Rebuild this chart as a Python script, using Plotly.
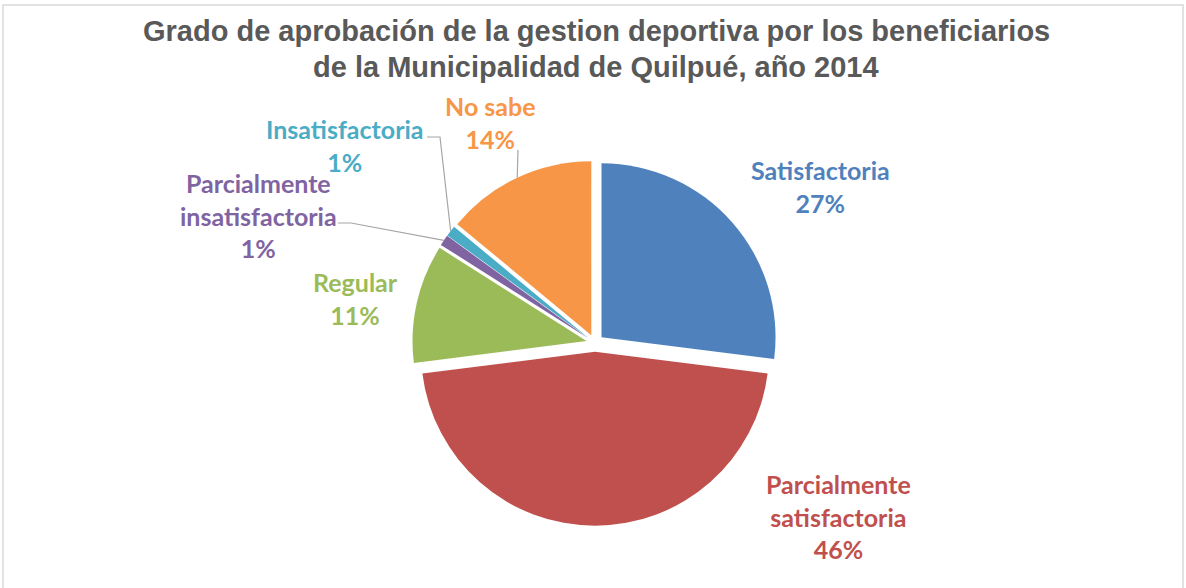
import math
import plotly.graph_objects as go

W, H = 1186, 588

categorias = ["Satisfactoria", "Parcialmente satisfactoria", "Regular",
              "Parcialmente insatisfactoria", "Insatisfactoria", "No sabe"]
porcentajes = [27, 46, 11, 1, 1, 14]
etiquetas = ["Satisfactoria", "Parcialmente<br>satisfactoria", "Regular",
             "Parcialmente<br>insatisfactoria", "Insatisfactoria", "No sabe"]
colores = ["#4F81BD", "#C0504D", "#9BBB59", "#8064A2", "#4BACC6", "#F79646"]

# layout (pixels)
cx, cy, r = 595, 343, 174
pull = 0.05
S = 2 * r * (1 + pull)
label_pos = [(820, 186), (838, 516), (355, 298), (258, 216), (345, 145), (490, 123)]
# elbow points for leader lines (only small/near slices)
leader_start = {3: [(338, 223), (351, 223)], 4: [(427, 137), (440, 137)], 5: [(518, 150)]}


def px(x):
    return x / W


def py(y):
    return 1 - y / H


fig = go.Figure(go.Pie(
    labels=categorias, values=porcentajes, sort=False, direction="clockwise",
    rotation=0, pull=[pull] * len(porcentajes),
    marker=dict(colors=colores, line=dict(color="white", width=0)),
    textinfo="none", hoverinfo="label+percent", showlegend=False,
    domain=dict(x=[px(cx - S / 2), px(cx + S / 2)], y=[py(cy + S / 2), py(cy - S / 2)]),
))

total = sum(porcentajes)
cum = 0
annotations = []
shapes = []
for i, v in enumerate(porcentajes):
    mid = (cum + v / 2) / total * 2 * math.pi
    cum += v
    lx, ly = label_pos[i]
    annotations.append(dict(
        x=px(lx), y=py(ly), xref="paper", yref="paper", showarrow=False,
        xanchor="center", yanchor="middle",
        text=f"{etiquetas[i]}<br>{round(v / total * 100)}%", align="center",
        font=dict(family="Lato", size=25, color=colores[i], weight="bold"),
    ))
    if i in leader_start:
        ex = cx + r * (1 + pull) * math.sin(mid)
        ey = cy - r * (1 + pull) * math.cos(mid)
        pts = leader_start[i] + [(ex, ey)]
        path = "M " + " L ".join(f"{px(a)} {py(b)}" for a, b in pts)
        shapes.append(dict(type="path", path=path, xref="paper", yref="paper",
                           line=dict(color="#A6A6A6", width=1.2)))

titulo = ["Grado de aprobación de la gestion deportiva por los beneficiarios",
          "de la Municipalidad de Quilpué, año 2014"]
for j, t in enumerate(titulo):
    annotations.append(dict(
        x=px(596), y=py(31 + 36 * j), xref="paper", yref="paper", showarrow=False,
        xanchor="center", yanchor="middle",
        text=t, font=dict(family="Liberation Sans", size=29, color="#595959", weight="bold"),
    ))

shapes.append(dict(type="rect", xref="paper", yref="paper",
                   x0=px(3), x1=px(1183), y0=py(600), y1=py(5),
                   line=dict(color="#D9D9D9", width=1.5)))

fig.update_layout(
    width=W, height=H, margin=dict(l=0, r=0, t=0, b=0),
    paper_bgcolor="white", plot_bgcolor="white",
    annotations=annotations, shapes=shapes,
)

fig.write_html("out.html", config={"displayModeBar": False},
               post_script="document.body.style.margin='0';")
